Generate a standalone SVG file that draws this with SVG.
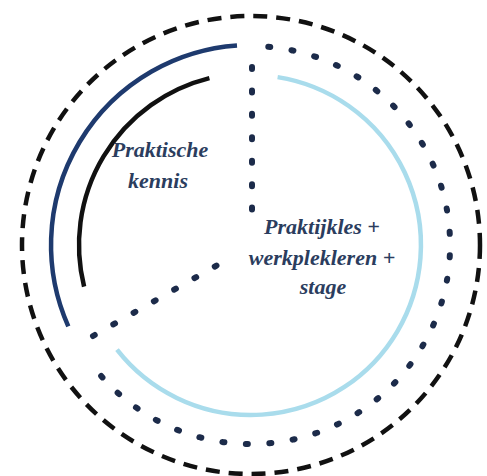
<svg xmlns="http://www.w3.org/2000/svg" width="487" height="476" viewBox="0 0 487 476">
  <style>
    .outer { fill: none; stroke: #111111; stroke-width: 4.5; stroke-dasharray: 14 9; }
    .dots { fill: none; stroke: #1c2b4a; stroke-width: 6; stroke-linecap: round; }
    .arc { fill: none; stroke-width: 4.5; stroke-linecap: butt; }
    .lbl { font-family: "Liberation Serif", "DejaVu Serif", serif; font-style: italic; font-weight: bold; font-size: 22px; fill: #2b3d5e; text-anchor: middle; }
  </style>
  <rect width="487" height="476" fill="#ffffff"/>
  <g id="outer-ring">
    <circle class="outer" cx="251" cy="245" r="229"/>
  </g>
  <g id="connectors">
    <path class="dots" d="M268.3,46.8 A199,199 0 1 1 88,359.1" stroke-dasharray="2 21.49"/>
    <path class="dots" d="M252,67 L252,231" stroke-dasharray="2 21.43"/>
    <path class="dots" d="M93,336 L235,255" stroke-dasharray="2 21.36"/>
  </g>
  <g id="praktische-kennis">
    <path class="arc" stroke="#1e3a6e" d="M68.3,326.3 A200,200 0 0 1 237,45.5"/>
    <path class="arc" stroke="#111111" d="M84.1,286.6 A172,172 0 0 1 209.4,78.1"/>
    <text class="lbl" x="160" y="157">Praktische</text>
    <text class="lbl" x="158" y="188">kennis</text>
  </g>
  <g id="praktijkles">
    <path class="arc" stroke="#a9dcec" d="M277.6,77.1 A170,170 0 1 1 117,349.7"/>
    <text class="lbl" x="322" y="234">Praktijkles +</text>
    <text class="lbl" x="322" y="265">werkplekleren +</text>
    <text class="lbl" x="323" y="294">stage</text>
  </g>
</svg>
